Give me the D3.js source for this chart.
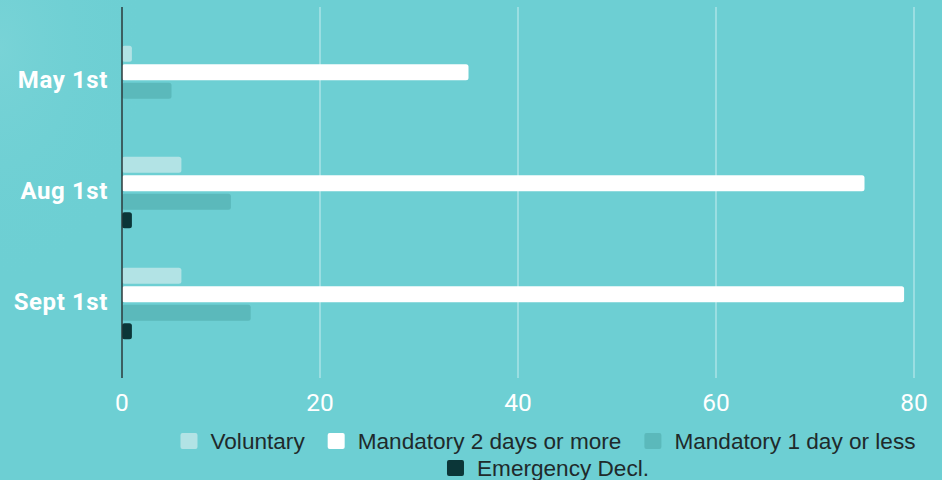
<!DOCTYPE html>
<html>
<head>
<meta charset="utf-8">
<script src="https://cdn.jsdelivr.net/npm/d3@7"></script>
<style>
  body { margin: 0; background: #6dcfd3; overflow: hidden; }
  svg { display: block; }
</style>
</head>
<body>
<script>
var categories = ["May 1st", "Aug 1st", "Sept 1st"],
  seriesNames = ["Voluntary", "Mandatory 2 days or more", "Mandatory 1 day or less", "Emergency Decl."],
  seriesColors = ["#b2e3e5", "#ffffff", "#5bb9bb", "#0b3638"],
  voluntary = [1, 6, 6],
  mandatory2 = [35, 75, 79],
  mandatory1 = [5, 11, 13],
  emergency = [0, 1, 1],
  xTicks = [0, 20, 40, 60, 80];

var seriesValues = [voluntary, mandatory2, mandatory1, emergency];

var width = 942,
  height = 480,
  svg = d3.select("body").append("svg")
    .attr("width", width)
    .attr("height", height);

// faint lighter wash on the left edge, like the slide background
var defs = svg.append("defs");
var grad = defs.append("radialGradient").attr("id", "wash")
  .attr("cx", "0").attr("cy", "0.1").attr("r", "0.5");
grad.append("stop").attr("offset", "0").attr("stop-color", "#84d7da").attr("stop-opacity", 0.5);
grad.append("stop").attr("offset", "1").attr("stop-color", "#6dcfd3").attr("stop-opacity", 0);
svg.append("rect").attr("width", width).attr("height", height).attr("fill", "#6dcfd3");
svg.append("rect").attr("width", 300).attr("height", 480).attr("fill", "url(#wash)");

var x = d3.scaleLinear().domain([0, 80]).range([122, 914]);
var y = d3.scaleBand().domain(categories).range([26, 359]);
var groupH = 71.3;
var ySub = d3.scaleBand().domain(d3.range(seriesNames.length)).range([0, groupH]).paddingInner(0.146);

// gridlines
svg.append("g")
  .selectAll("line")
  .data(xTicks.slice(1))
  .enter().append("line")
  .attr("x1", function(d){ return x(d) }).attr("x2", function(d){ return x(d) })
  .attr("y1", 7).attr("y2", 378)
  .attr("stroke", "#b4e7e9").attr("stroke-width", 1.3);

// bars
var groups = svg.append("g")
  .selectAll("g")
  .data(categories)
  .enter().append("g")
  .attr("transform", function(d){ return "translate(0," + (y(d) + (y.bandwidth() - groupH) / 2) + ")" });

groups.selectAll("rect")
  .data(function(d, i){ return seriesValues.map(function(s, k){ return {k: k, v: s[i]} }) })
  .enter().filter(function(d){ return d.v > 0 }).append("rect")
  .attr("x", x(0))
  .attr("y", function(d){ return ySub(d.k) })
  .attr("width", function(d){ return x(d.v) - x(0) })
  .attr("height", ySub.bandwidth())
  .attr("rx", 2.5)
  .attr("fill", function(d){ return seriesColors[d.k] });

// zero axis line
svg.append("line")
  .attr("x1", x(0)).attr("x2", x(0))
  .attr("y1", 7).attr("y2", 378)
  .attr("stroke", "#2b3a3b").attr("stroke-width", 1.5);

// category labels
svg.append("g")
  .selectAll("text")
  .data(categories)
  .enter().append("text")
  .attr("x", 108)
  .attr("y", function(d){ return y(d) + y.bandwidth() / 2 + 6 })
  .attr("text-anchor", "end")
  .attr("font-family", "Roboto, sans-serif")
  .attr("font-weight", "bold")
  .attr("font-size", 24)
  .attr("letter-spacing", 0.6)
  .attr("fill", "#ffffff")
  .text(function(d){ return d });

// x tick labels
svg.append("g")
  .selectAll("text")
  .data(xTicks)
  .enter().append("text")
  .attr("x", function(d){ return x(d) })
  .attr("y", 411)
  .attr("text-anchor", "middle")
  .attr("font-family", "Roboto, sans-serif")
  .attr("font-size", 24.5)
  .attr("fill", "#ffffff")
  .text(function(d){ return d });

// legend, two rows centred
var rows = [[0, 1, 2], [3]],
  legendCenter = 548,
  swatch = 17, swGap = 13, itemGap = 23;
rows.forEach(function(row, r){
  var g = svg.append("g");
  var cx = 0;
  row.forEach(function(k){
    var item = g.append("g").attr("transform", "translate(" + cx + ",0)");
    item.append("rect")
      .attr("x", 0).attr("y", -8).attr("width", swatch).attr("height", 16)
      .attr("rx", 2)
      .attr("fill", seriesColors[k]);
    var t = item.append("text")
      .attr("x", swatch + swGap).attr("y", 0).attr("dy", "0.35em")
      .attr("font-family", "'Liberation Sans', Arial, sans-serif")
      .attr("font-size", 22.6)
      .attr("fill", "#1f2a2b")
      .text(seriesNames[k]);
    cx += swatch + swGap + t.node().getComputedTextLength() + itemGap;
  });
  var total = cx - itemGap;
  g.attr("transform", "translate(" + (legendCenter - total / 2) + "," + (441 + r * 27) + ")");
});
</script>
</body>
</html>
